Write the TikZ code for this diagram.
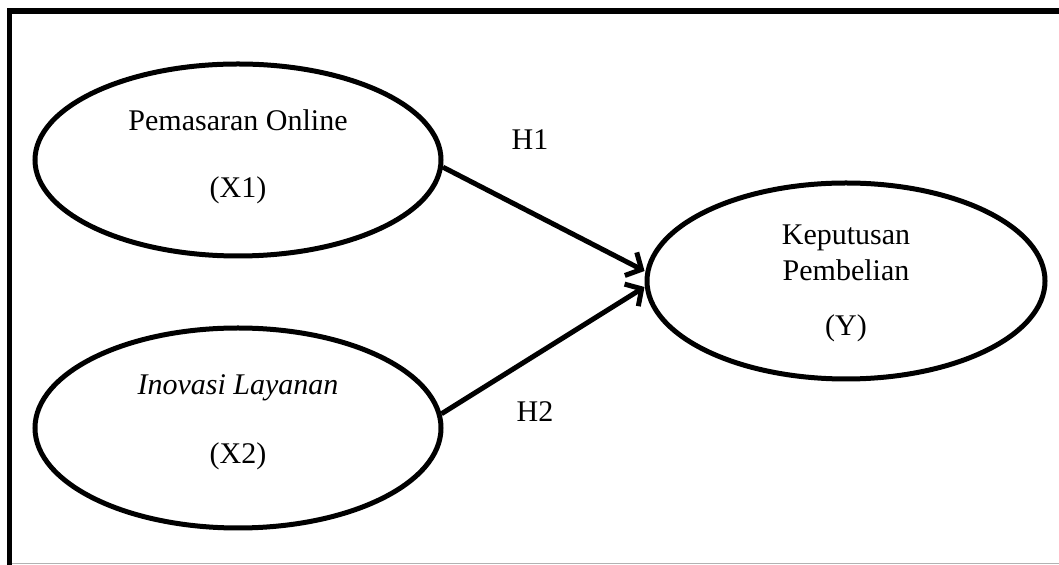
\documentclass[tikz,border=0pt]{standalone}
\usepackage{fontspec}
\setmainfont{Liberation Serif}
\usetikzlibrary{shapes.geometric,arrows.meta}

\tikzset{
  var/.style={draw, ellipse, line width=2.5pt, inner sep=0pt},
  txt/.style={font=\fontsize{15}{18}\selectfont, inner sep=0pt},
  hyp/.style={line width=2.5pt, -{Straight Barb[length=6pt,width=13pt]}}
}

\begin{document}
\begin{tikzpicture}[x=0.5pt,y=-0.5pt]
  \useasboundingbox (0,0) rectangle (1059,565);
  % frame
  \draw[line width=2.8pt] (9.5,565) -- (9.5,11) -- (1059,11);
  \draw[gray!60, line width=0.8pt] (12,563.5) -- (1059,563.5);

  % variables
  \node[var, minimum width=203pt, minimum height=96pt] (x1) at (238,160) {};
  \node[var, minimum width=203pt, minimum height=100pt] (x2) at (238,428) {};
  \node[var, minimum width=199pt, minimum height=98pt] (y) at (846,281) {};

  \node[txt] (x1name) at (238,120) {Pemasaran Online};
  \node[txt] (x1code) at (238,190) {(X1)};
  \node[txt] (x2name) at (238,388) {\itshape Inovasi Layanan};
  \node[txt] (x2code) at (238,456) {(X2)};
  \node[txt] (yname1) at (846,238) {Keputusan};
  \node[txt] (yname2) at (846,270) {Pembelian};
  \node[txt] (ycode) at (846,328) {(Y)};

  % hypotheses
  \draw[hyp] (x1.-2) -- ([yshift=5pt]y.west);
  \draw[hyp] (x2.4) -- ([yshift=-3pt]y.west);
  \node[txt] (h1) at (530,140) {H1};
  \node[txt] (h2) at (535,412) {H2};
\end{tikzpicture}
\end{document}
